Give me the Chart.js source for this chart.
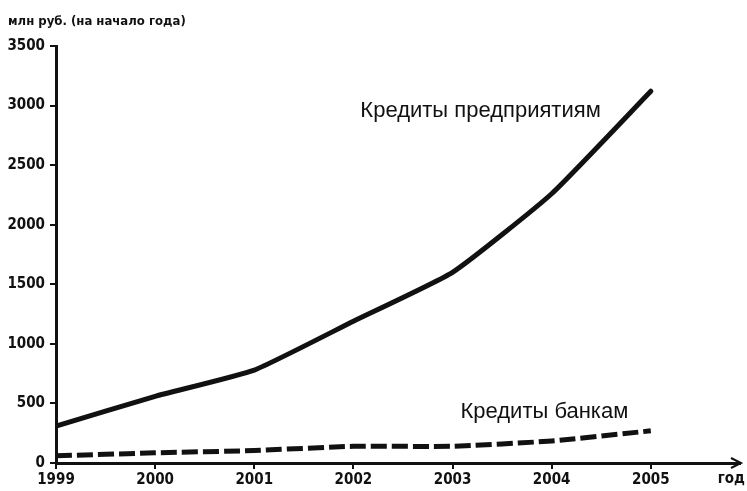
<!DOCTYPE html>
<html>
<head>
<meta charset="utf-8">
<script src="https://cdn.jsdelivr.net/npm/chart.js@4/dist/chart.umd.min.js"></script>
<style>
  html, body { margin: 0; padding: 0; background: #fff; }
  #wrap { width: 747px; height: 491px; position: relative; }
</style>
</head>
<body>
<div id="wrap"><canvas id="myChart"></canvas></div>
<script>
const years = [1999, 2000, 2001, 2002, 2003, 2004, 2005]
const enterpriseLoans = [310, 560, 780, 1190, 1600, 2260, 3120]
const bankLoans = [60, 85, 105, 140, 140, 185, 270]
const yTicks = [0, 500, 1000, 1500, 2000, 2500, 3000, 3500]

const axisTitle = "млн руб. (на начало года)"
const xTitle = "год"
const enterpriseLabel = "Кредиты предприятиям"
const bankLabel = "Кредиты банкам"

const narrow = "'DejaVu Sans Condensed', 'Liberation Sans Narrow', 'Liberation Sans'"
const tickFont = { family: narrow, size: 15, weight: 'bold' }

function toPoints(vals) {
	return years.map((y, i) => ({ x: y, y: vals[i] }))
}

// texts and arrow of the x axis
const extras = {
	id: 'extras',
	afterDraw(chart) {
		const ctx = chart.ctx
		const xs = chart.scales.x
		const ys = chart.scales.y
		const area = chart.chartArea
		ctx.save()
		ctx.fillStyle = '#111'
		ctx.strokeStyle = '#111'

		// arrow at end of x axis
		const ay = ys.getPixelForValue(0)
		ctx.beginPath()
		ctx.moveTo(area.right - 9, ay - 5)
		ctx.lineTo(area.right + 1, ay)
		ctx.lineTo(area.right - 9, ay + 5)
		ctx.lineWidth = 2
		ctx.stroke()

		ctx.font = "bold 15px " + narrow
		ctx.textAlign = 'right'
		ctx.textBaseline = 'top'
		ctx.fillText(xTitle, area.right + 5, ay + 9)

		ctx.font = "bold 13px " + narrow
		ctx.textAlign = 'left'
		ctx.textBaseline = 'middle'
		ctx.fillText(axisTitle, 8, 22)

		ctx.font = "22px 'Liberation Sans', Arial, sans-serif"
		ctx.fillText(enterpriseLabel, xs.getPixelForValue(2002.07), ys.getPixelForValue(2955))
		ctx.fillText(bankLabel, xs.getPixelForValue(2003.08), ys.getPixelForValue(430))
		ctx.restore()
	}
}

let chart1 = new Chart(document.getElementById('myChart').getContext('2d'), {
	type: 'line',
	data: {
		datasets: [{
			data: toPoints(enterpriseLoans),
			borderColor: '#111',
			borderWidth: 5,
			pointRadius: 0,
			tension: 0.15,
			borderCapStyle: 'round'
		}, {
			data: toPoints(bankLoans),
			borderColor: '#111',
			borderWidth: 5,
			borderDash: [16, 5],
			pointRadius: 0,
			tension: 0.15
		}]
	},
	options: {
		responsive: true,
		maintainAspectRatio: false,
		animation: false,
		layout: { padding: { top: 46, right: 7, left: 4, bottom: 0 } },
		plugins: {
			legend: { display: false },
			tooltip: { enabled: false }
		},
		scales: {
			x: {
				type: 'linear',
				min: 1999,
				max: 2005.9,
				afterBuildTicks: (s) => { s.ticks = years.map(v => ({ value: v })) },
				afterFit: (s) => { s.height = 28 },
				ticks: { color: '#111', font: tickFont, padding: 2, maxRotation: 0, callback: v => String(v) },
				grid: { drawOnChartArea: false, tickLength: 6, tickColor: '#111', lineWidth: 2 },
				border: { color: '#111', width: 3 }
			},
			y: {
				min: 0,
				max: 3500,
				afterBuildTicks: (s) => { s.ticks = yTicks.map(v => ({ value: v })) },
				afterFit: (s) => { s.width = 52 },
				ticks: { color: '#111', font: tickFont, padding: 5, callback: v => String(v) },
				grid: { drawOnChartArea: false, tickLength: 6, tickColor: '#111', lineWidth: 2 },
				border: { color: '#111', width: 3 }
			}
		}
	},
	plugins: [extras]
})
</script>
</body>
</html>
